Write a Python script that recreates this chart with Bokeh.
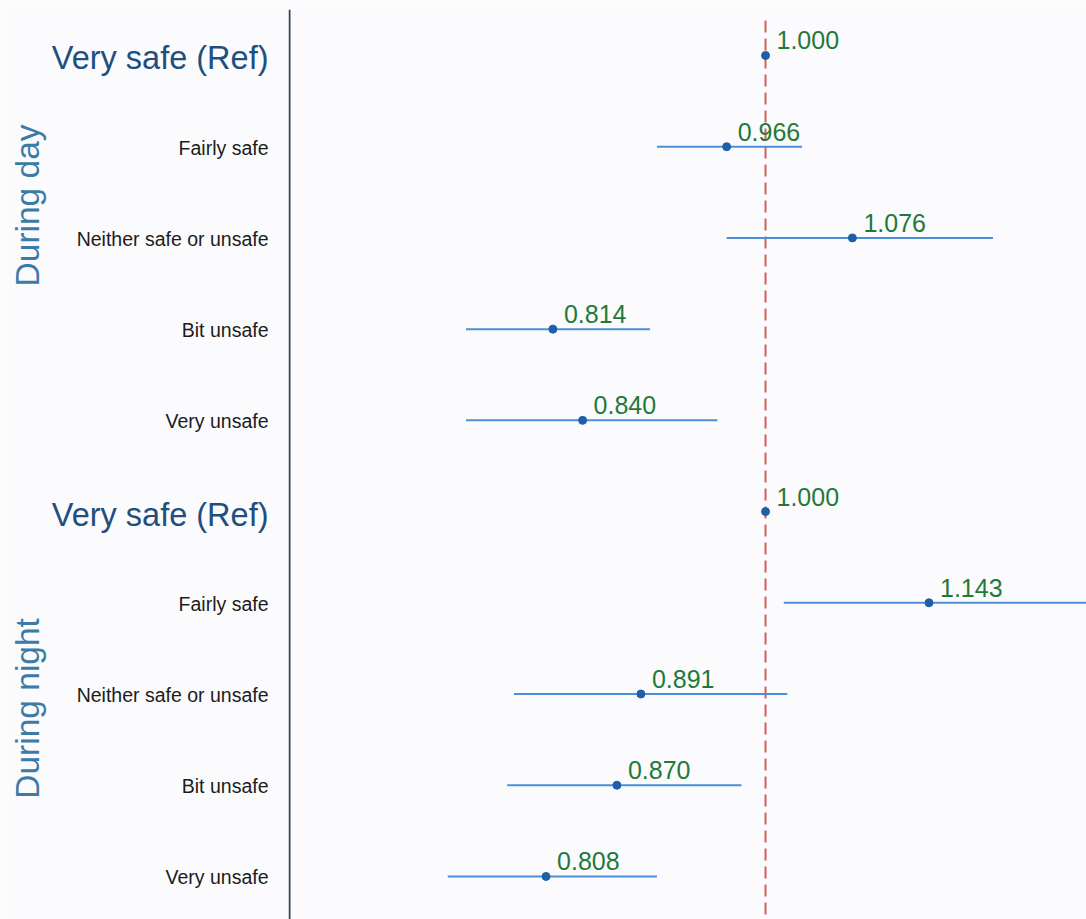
import math
from bokeh.plotting import figure
from bokeh.layouts import row
from bokeh.models import Range1d, ColumnDataSource
from bokeh.core.properties import value
from bokeh.embed import file_html
from bokeh.resources import INLINE

# Odds ratios (95% CI) by perceived safety, day and night
groups = ["During day", "During night"]
categories = ["Very safe (Ref)", "Fairly safe", "Neither safe or unsafe", "Bit unsafe", "Very unsafe"]
day_or = [1.000, 0.966, 1.076, 0.814, 0.840]
day_lo = [1.000, 0.905, 0.966, 0.738, 0.738]
day_hi = [1.000, 1.032, 1.199, 0.899, 0.958]
night_or = [1.000, 1.143, 0.891, 0.870, 0.808]
night_lo = [1.000, 1.016, 0.780, 0.774, 0.722]
night_hi = [1.000, 1.286, 1.019, 0.979, 0.905]

odds = day_or + night_or
lo = day_lo + night_lo
hi = day_hi + night_hi
labels = categories + categories
rows = list(range(len(odds)))

FONT = "Liberation Sans"
BG = "#fbfbfd"
W, H = 1086, 919
LEFT = 288
TOP = 9

x_lo, x_hi = 0.5827, 1.2808
y_top, y_bot = -0.504, 9.472
px_per_unit = (W - LEFT) / (x_hi - x_lo)


def bare(fig):
    fig.xaxis.visible = False
    fig.yaxis.visible = False
    fig.grid.visible = False
    fig.outline_line_color = None
    fig.background_fill_color = BG
    fig.border_fill_color = BG


# ---- label panel -------------------------------------------------------
lp = figure(width=LEFT, height=H, output_backend="svg", toolbar_location=None,
            x_range=Range1d(0, LEFT), y_range=Range1d(y_bot, y_top),
            min_border_left=0, min_border_right=0, min_border_top=TOP,
            min_border_bottom=0)
bare(lp)

is_ref = [c.endswith("(Ref)") for c in labels]
ref_rows = [i for i in rows if is_ref[i]]
cat_rows = [i for i in rows if not is_ref[i]]
lp.text(x=[268] * len(ref_rows), y=ref_rows, text=[labels[i] for i in ref_rows],
        y_offset=3, text_align="right", text_baseline="middle",
        text_font=value(FONT), text_font_size="32.5px", text_color="#1f4f7e")
lp.text(x=[268] * len(cat_rows), y=cat_rows, text=[labels[i] for i in cat_rows],
        y_offset=1, text_align="right", text_baseline="middle",
        text_font=value(FONT), text_font_size="19.5px", text_color="#1c1c1c")
lp.text(x=[27, 27], y=[1.644, 7.158], text=groups, angle=math.pi / 2,
        text_align="center", text_baseline="middle", text_font=value(FONT),
        text_font_size="33.5px", text_color="#3b7ba6")

# ---- forest panel ------------------------------------------------------
p = figure(width=W - LEFT, height=H, output_backend="svg", toolbar_location=None,
           x_range=Range1d(x_lo, x_hi), y_range=lp.y_range,
           min_border_left=0, min_border_right=0, min_border_top=TOP,
           min_border_bottom=0)
bare(p)

# reference line at OR = 1
p.segment(x0=[1.0], y0=[-0.384], x1=[1.0], y1=[y_bot + 0.5],
          line_color="#d0605a", line_width=2, line_dash="12 6")

src = ColumnDataSource(dict(y=rows, odds=odds, txt=["%.3f" % v for v in odds]))
ci = [i for i in rows if lo[i] != hi[i]]
p.segment(x0=[lo[i] for i in ci], y0=[rows[i] for i in ci],
          x1=[hi[i] for i in ci], y1=[rows[i] for i in ci],
          line_color="#4a8fd8", line_width=2)
p.scatter(x="odds", y="y", source=src, size=8, color="#1f5ea8")
p.text(x="odds", y="y", text="txt", source=src, x_offset=11, y_offset=-15,
       text_font=value(FONT), text_font_size="25px", text_color="#1f7a3a",
       text_baseline="alphabetic", text_align="left")

# vertical divider between labels and plot
xd = x_lo + 1 / px_per_unit
p.segment(x0=[xd], y0=[y_top], x1=[xd], y1=[y_bot],
          line_color="#34414d", line_width=2)

layout = row(lp, p)
open("out.html", "w").write(file_html(layout, INLINE))
